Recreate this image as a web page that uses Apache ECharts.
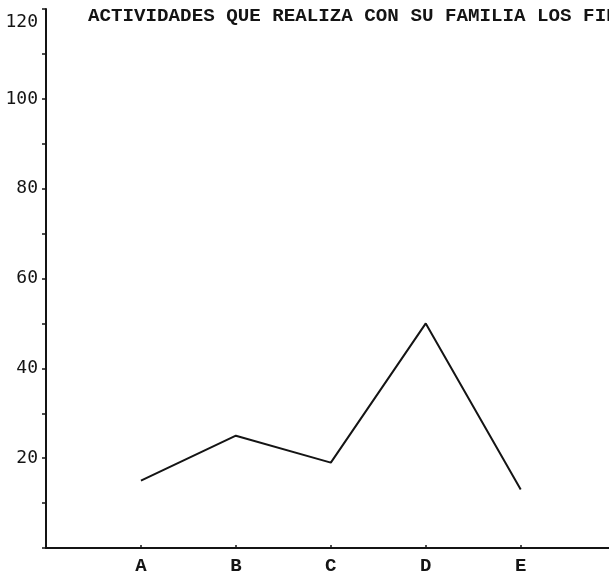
<!DOCTYPE html>
<html>
<head>
<meta charset="utf-8">
<script src="https://cdn.jsdelivr.net/npm/echarts@6/dist/echarts.min.js"></script>
<style>
  html, body { margin: 0; padding: 0; background: #fff; }
  #chart { width: 609px; height: 574px; }
</style>
</head>
<body>
<div id="chart"></div>
<script>
// Activities done with family on weekends (percent)
const titleText = 'ACTIVIDADES QUE REALIZA CON SU FAMILIA LOS FINES DE SEMANA';
const categories = ['A', 'B', 'C', 'D', 'E'];
const values = [15, 25, 19, 50, 13];
const yTicks = [20, 40, 60, 80, 100, 120];

const ink = '#141414';
const seriesData = values.map((v, i) => [i + 1, v]);

const chart = echarts.init(document.getElementById('chart'), null, { renderer: 'canvas' });
chart.setOption({
  animation: false,
  backgroundColor: '#ffffff',
  title: {
    text: titleText,
    left: 83,
    top: 2,
    textStyle: {
      fontFamily: 'Liberation Mono',
      fontSize: 19.2,
      fontWeight: 'bold',
      color: ink
    }
  },
  grid: { left: 46, right: 0, top: 9, bottom: 26, containLabel: false, outerBoundsMode: 'none' },
  xAxis: {
    type: 'value',
    min: 0,
    max: 5.93,
    interval: 1,
    axisLine: { show: true, onZero: false, lineStyle: { color: ink, width: 2 } },
    axisTick: { show: true, inside: true, length: 3, lineStyle: { color: ink, width: 1.5 } },
    splitLine: { show: false },
    axisLabel: {
      margin: 9,
      fontFamily: 'Liberation Mono',
      fontSize: 19,
      fontWeight: 'bold',
      color: ink,
      showMaxLabel: false,
      formatter: v => (Number.isInteger(v) && v >= 1 && v <= categories.length) ? categories[v - 1] : ''
    }
  },
  yAxis: {
    type: 'value',
    min: 0,
    max: 120,
    interval: 20,
    axisLine: { show: true, lineStyle: { color: ink, width: 2 } },
    axisTick: { show: true, length: 4, lineStyle: { color: ink, width: 1.5 } },
    minorTick: { show: true, splitNumber: 2, length: 4, lineStyle: { color: ink, width: 1.5 } },
    splitLine: { show: false },
    axisLabel: {
      margin: 8,
      fontFamily: 'DejaVu Sans Mono',
      fontSize: 18,
      color: ink,
      formatter: v => {
        if (!yTicks.includes(v)) return '';
        // the top label sits a little below its tick
        return v === 120 ? '{gap| }\n{n|' + v + '}' : String(v);
      },
      rich: {
        gap: { fontSize: 10, lineHeight: 26 },
        n: { fontFamily: 'DejaVu Sans Mono', fontSize: 18, lineHeight: 18, color: ink }
      }
    }
  },
  series: [{
    type: 'line',
    data: seriesData,
    symbol: 'none',
    lineStyle: { color: ink, width: 2 },
    z: 3
  }]
});
</script>
</body>
</html>
